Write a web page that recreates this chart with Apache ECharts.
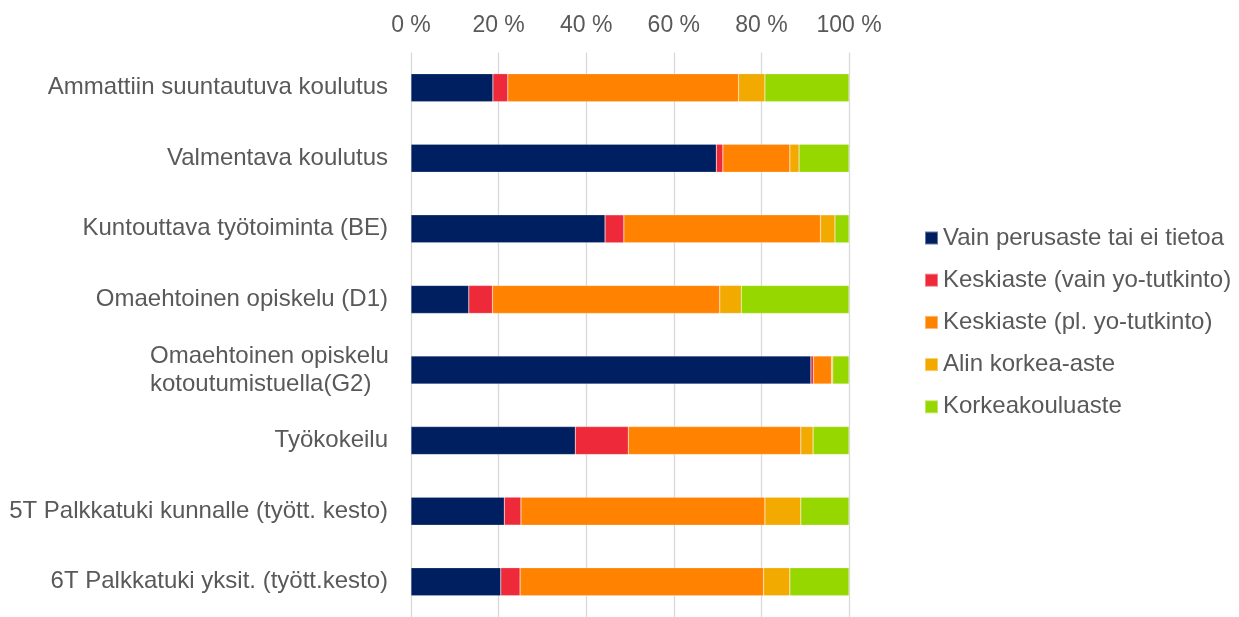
<!DOCTYPE html>
<html>
<head>
<meta charset="utf-8">
<title>Koulutustaso</title>
<script src="https://cdn.jsdelivr.net/npm/echarts@6/dist/echarts.min.js"></script>
<style>
  html, body { margin: 0; padding: 0; background: #fff; }
  #chart { width: 1239px; height: 617px; }
</style>
</head>
<body>
<div id="chart"></div>
<script>
// kategoriat ylhäältä alas
const categories = [
  'Ammattiin suuntautuva koulutus',
  'Valmentava koulutus',
  'Kuntouttava työtoiminta (BE)',
  'Omaehtoinen opiskelu (D1)',
  'Omaehtoinen opiskelu\nkotoutumistuella(G2)',
  'Työkokeilu',
  '5T Palkkatuki kunnalle (tyött. kesto)',
  '6T Palkkatuki yksit. (tyött.kesto)'
]
const seriesNames = [
  'Vain perusaste tai ei tietoa',
  'Keskiaste (vain yo-tutkinto)',
  'Keskiaste (pl. yo-tutkinto)',
  'Alin korkea-aste',
  'Korkeakouluaste'
]
// osuudet % (luettu kuvasta)
const perusaste = [18.7, 69.7, 44.3, 13.2, 91.3, 37.5, 21.3, 20.5]
const keskiasteYo = [3.4, 1.5, 4.3, 5.4, 0.6, 12.1, 3.8, 4.4]
const keskiasteAm = [52.7, 15.3, 44.9, 51.9, 4.1, 39.4, 55.7, 55.6]
const alinKorkea = [6.0, 2.1, 3.3, 4.9, 0.3, 2.8, 8.2, 6.0]
const korkeakoulu = [19.2, 11.4, 3.2, 24.6, 3.7, 8.2, 11.0, 13.5]
const xTicks = [0, 20, 40, 60, 80, 100]

const colors = ['#001F60', '#EE2A3A', '#FF8300', '#F2A900', '#97D700']
const values = [perusaste, keskiasteYo, keskiasteAm, alinKorkea, korkeakoulu]
const textColor = '#595959'

const chart = echarts.init(document.getElementById('chart'))
const option = {
  animation: false,
  color: colors,
  textStyle: { fontFamily: 'Liberation Sans, Arial, sans-serif' },
  grid: {
    left: 411,
    right: 390,
    top: 52.4,
    bottom: -5.4
  },
  legend: {
    orient: 'vertical',
    left: 924,
    top: 226,
    padding: 0,
    itemWidth: 13,
    itemHeight: 13,
    itemGap: 18.2,
    icon: 'rect',
    data: seriesNames,
    textStyle: { color: textColor, fontSize: 24, lineHeight: 24 }
  },
  xAxis: {
    type: 'value',
    position: 'top',
    min: xTicks[0],
    max: xTicks[xTicks.length - 1],
    interval: 20,
    axisLine: { show: false },
    axisTick: { show: false },
    axisLabel: {
      color: textColor,
      fontSize: 23,
      margin: 15,
      formatter: '{value} %'
    },
    splitLine: { lineStyle: { color: '#D9D9D9', width: 1.3 } }
  },
  yAxis: {
    type: 'category',
    inverse: true,
    data: categories,
    axisLine: { show: false },
    axisTick: { show: false },
    axisLabel: {
      color: textColor,
      fontSize: 24,
      margin: 23,
      formatter: function (val) {
        if (val.indexOf('\n') >= 0) {
          return val.split('\n').map(s => '{g|' + s + '}').join('\n')
        }
        return val
      },
      rich: {
        g: { width: 238, align: 'left', fontSize: 24, lineHeight: 28, color: textColor }
      }
    }
  },
  series: seriesNames.map((name, i) => ({
    name: name,
    type: 'bar',
    stack: 'total',
    barWidth: 28,
    data: values[i],
    itemStyle: { borderColor: 'rgba(255,255,255,0.4)', borderWidth: 0.5 }
  }))
}
chart.setOption(option)
</script>
</body>
</html>
